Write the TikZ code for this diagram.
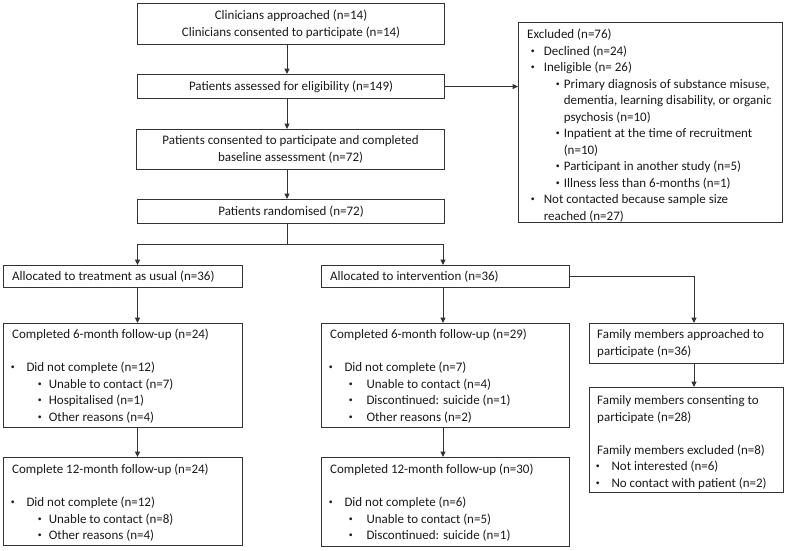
\documentclass[tikz,border=0pt]{standalone}
\usepackage{fontspec}
\setmainfont{Carlito}
\usetikzlibrary{arrows.meta,calc}
\definecolor{linec}{HTML}{333333}
\definecolor{textc}{HTML}{1A1A1A}
\newcommand{\mybul}{\raisebox{1.7pt}{\scalebox{0.6}{\textbullet}}}
\newcommand{\myitem}[3]{\hspace*{#1pt}\makebox[0pt]{\mybul}\hspace*{\dimexpr #2pt - #1pt\relax}#3}
\newcommand{\mycont}[2]{\hspace*{#1pt}#2}
\tikzset{
  box/.style={draw=linec, line width=1.1pt, inner sep=0pt, anchor=north west, fill=white},
  txt/.style={inner sep=0pt, text=textc, font=\fontsize{13}{16.5}\selectfont},
  txtl/.style={txt, align=left, anchor=north west},
  arr/.style={draw=linec, line width=1pt, -{Triangle[length=5.5pt,width=5pt]}},
  ln/.style={draw=linec, line width=1pt}
}
\begin{document}
\begin{tikzpicture}[x=1pt,y=-1pt]
\fill[white] (0,0) rectangle (787,550);
\useasboundingbox (0,0) rectangle (787,550);

% boxes
\node[box, minimum width=307pt, minimum height=41pt] (b1) at (137,3) {};
\node[box, minimum width=307pt, minimum height=24pt] (b2) at (137,74) {};
\node[box, minimum width=308pt, minimum height=40pt] (b3) at (136,129) {};
\node[box, minimum width=307pt, minimum height=24pt] (b4) at (137,199) {};
\node[box, minimum width=264pt, minimum height=200pt] (excl) at (518,22) {};
\node[box, minimum width=239pt, minimum height=22pt] (aL) at (3,265) {};
\node[box, minimum width=248pt, minimum height=22pt] (aR) at (321,265) {};
\node[box, minimum width=239pt, minimum height=104pt] (l6) at (3,323) {};
\node[box, minimum width=248pt, minimum height=104pt] (r6) at (321,323) {};
\node[box, minimum width=239pt, minimum height=88pt] (l12) at (3,457) {};
\node[box, minimum width=248pt, minimum height=89pt] (r12) at (321,457) {};
\node[box, minimum width=194pt, minimum height=40pt] (f1) at (589,323) {};
\node[box, minimum width=194pt, minimum height=105pt] (f2) at (589,387) {};

% spine coordinates
\coordinate (sx) at (287,0);
\coordinate (lx) at (137.5,0);
\coordinate (rx) at (443,0);
\coordinate (fx) at (694,0);
\coordinate (split) at (287,244);

% texts
\node[txt, align=center] (t1) at (b1.center) {Clinicians approached (n=14)\\Clinicians consented to participate (n=14)};
\node[txt] (t2) at (b2.center) {Patients assessed for eligibility (n=149)};
\node[txt, align=center] (t3) at (b3.center) {Patients consented to participate and completed\\baseline assessment (n=72)};
\node[txt] (t4) at (b4.center) {Patients randomised (n=72)};
\node[txt, anchor=west] (taL) at (aL.west) [xshift=9pt] {Allocated to treatment as usual (n=36)};
\node[txt, anchor=west] (taR) at (aR.west) [xshift=9pt] {Allocated to intervention (n=36)};

\node[txtl] (texcl) at (527,26.75) {\strut Excluded (n=76)\\
\myitem{5.6}{16.6}{Declined (n=24)}\\
\myitem{5.6}{16.6}{Ineligible (n= 26)}\\
\myitem{30.6}{36.6}{Primary diagnosis of substance misuse,}\\
\mycont{36.6}{dementia, learning disability, or organic}\\
\mycont{36.6}{psychosis (n=10)}\\
\myitem{30.6}{36.6}{Inpatient at the time of recruitment}\\
\mycont{36.6}{(n=10)}\\
\myitem{30.6}{36.6}{Participant in another study (n=5)}\\
\myitem{30.6}{36.6}{Illness less than 6-months (n=1)}\\
\myitem{5.6}{16.6}{Not contacted because sample size}\\
\mycont{16.6}{reached (n=27)}};

\node[txtl] (tl6) at (12,326.75) {\strut Completed 6-month follow-up (n=24)\\[16.5pt]
\myitem{0.6}{14.3}{Did not complete (n=12)}\\
\myitem{27.6}{36.6}{Unable to contact (n=7)}\\
\myitem{27.6}{36.6}{Hospitalised (n=1)}\\
\myitem{27.6}{36.6}{Other reasons (n=4)}};

\node[txtl] (tl12) at (12,461.75) {\strut Complete 12-month follow-up (n=24)\\[16.5pt]
\myitem{0.6}{14.3}{Did not complete (n=12)}\\
\myitem{27.6}{36.6}{Unable to contact (n=8)}\\
\myitem{27.6}{36.6}{Other reasons (n=4)}};

\node[txtl] (tr6) at (330,326.75) {\strut Completed 6-month follow-up (n=29)\\[16.5pt]
\myitem{0.6}{14.3}{Did not complete (n=7)}\\
\myitem{20.6}{36.3}{Unable to contact (n=4)}\\
\myitem{20.6}{36.3}{Discontinued: suicide (n=1)}\\
\myitem{20.6}{36.3}{Other reasons (n=2)}};

\node[txtl] (tr12) at (330,461.75) {\strut Completed 12-month follow-up (n=30)\\[16.5pt]
\myitem{0.6}{14.3}{Did not complete (n=6)}\\
\myitem{20.6}{36.3}{Unable to contact (n=5)}\\
\myitem{20.6}{36.3}{Discontinued: suicide (n=1)}};

\node[txtl] (tf1) at (597,326.75) {\strut Family members approached to\\participate (n=36)};

\node[txtl] (tf2) at (597,392.75) {\strut Family members consenting to\\participate (n=28)\\[16.5pt]
Family members excluded (n=8)\\
\myitem{0.6}{14.3}{Not interested (n=6)}\\
\myitem{0.6}{14.3}{No contact with patient (n=2)}};

% connectors
\draw[arr] (b1.south -| sx) -- (b2.north -| sx);
\draw[arr] (b2.south -| sx) -- (b3.north -| sx);
\draw[arr] (b3.south -| sx) -- (b4.north -| sx);
\draw[arr] (b2.east) -- (b2.east -| excl.west);
\draw[ln] (b4.south -| sx) -- (split);
\draw[arr] (split) -| (lx |- aL.north);
\draw[arr] (split) -| (rx |- aR.north);
\draw[arr] (aR.east) -| (fx |- f1.north);
\draw[arr] (lx |- aL.south) -- (lx |- l6.north);
\draw[arr] (lx |- l6.south) -- (lx |- l12.north);
\draw[arr] (rx |- aR.south) -- (rx |- r6.north);
\draw[arr] (rx |- r6.south) -- (rx |- r12.north);
\draw[arr] (fx |- f1.south) -- (fx |- f2.north);
\end{tikzpicture}
\end{document}
